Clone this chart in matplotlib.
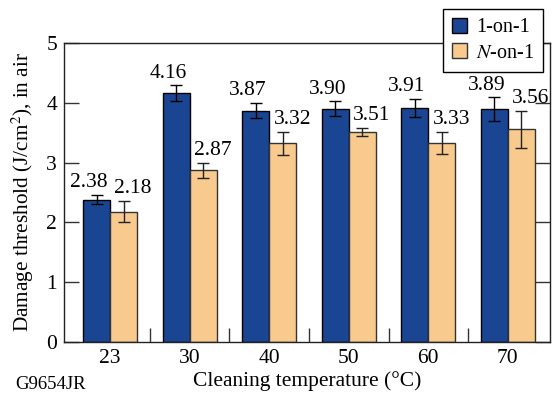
import numpy as np
import matplotlib
matplotlib.use('Agg')
import matplotlib.pyplot as plt
from matplotlib.ticker import FixedLocator

plt.rcParams['font.family'] = ['Liberation Serif', 'DejaVu Serif']
plt.rcParams['mathtext.fontset'] = 'stix'
plt.rcParams['xtick.direction'] = 'in'
plt.rcParams['ytick.direction'] = 'in'

temps = ['23', '30', '40', '50', '60', '70']
one_on_one = [2.38, 4.16, 3.87, 3.90, 3.91, 3.89]
one_err = [0.08, 0.13, 0.13, 0.125, 0.15, 0.20]
n_on_one = [2.18, 2.87, 3.32, 3.51, 3.33, 3.56]
n_err = [0.18, 0.13, 0.19, 0.07, 0.18, 0.31]

blue = '#1a4592'
orange = '#f9ca8e'
w = 0.34

fig = plt.figure(figsize=(5.52, 3.98), dpi=100)
ax = fig.add_axes([0.1159, 0.1407, 0.8805, 0.7513])

x = np.arange(len(temps))
ax.bar(x - w/2, one_on_one, w, color=blue, edgecolor='black', linewidth=1,
       label='1-on-1', zorder=2)
ax.bar(x + w/2, n_on_one, w, color=orange, edgecolor='#333333', linewidth=1,
       label='$\\mathit{N}$-on-1', zorder=2)
ax.errorbar(x - w/2, one_on_one, yerr=one_err, fmt='none', ecolor='black',
            elinewidth=1, capsize=4, capthick=1, zorder=3)
ax.errorbar(x + w/2, n_on_one, yerr=n_err, fmt='none', ecolor='#222222',
            elinewidth=1, capsize=4, capthick=1, zorder=3)

for i in range(len(temps)):
    ax.annotate('%.2f' % one_on_one[i], (x[i] - w/2 - 0.1, one_on_one[i] + one_err[i]),
                xytext=(0, 2), textcoords='offset points', ha='center', va='bottom',
                fontsize=15.5)
    ax.annotate('%.2f' % n_on_one[i], (x[i] + w/2 + 0.12, n_on_one[i] + n_err[i]),
                xytext=(0, 2), textcoords='offset points', ha='center', va='bottom',
                fontsize=15.5)

ax.set_xlim(-0.58, 5.53)
ax.set_ylim(0, 5)
ax.set_xticks(x)
ax.set_xticklabels(temps, fontsize=15.5)
ax.xaxis.set_minor_locator(FixedLocator(x[:-1] + 0.5))
ax.tick_params(axis='x', which='major', length=0, pad=5)
ax.tick_params(axis='x', which='minor', length=10, width=1, color='#333333')
ax.set_yticks(range(6))
ax.tick_params(axis='y', labelsize=15.5, length=11, width=1, right=True, color='#333333', pad=5)
for s in ax.spines.values():
    s.set_linewidth(1)
    s.set_color('#222222')

ax.set_xlabel('Cleaning temperature (°C)', fontsize=15.5, labelpad=2.5)
ax.set_ylabel('Damage threshold (J/cm$^2$), in air', fontsize=15.3, labelpad=7)

leg = fig.legend(loc='upper right', bbox_to_anchor=(0.984, 0.978), fontsize=14.5,
                 frameon=True, fancybox=False, framealpha=1, edgecolor='black',
                 handlelength=0.75, handleheight=0.75, handletextpad=0.45,
                 borderpad=0.45, labelspacing=0.3, borderaxespad=0)
leg.get_frame().set_linewidth(1)
leg.set_zorder(10)

fig.text(0.027, 0.022, 'G9654JR', fontsize=13.5)

fig.savefig('out.png', dpi=100)
